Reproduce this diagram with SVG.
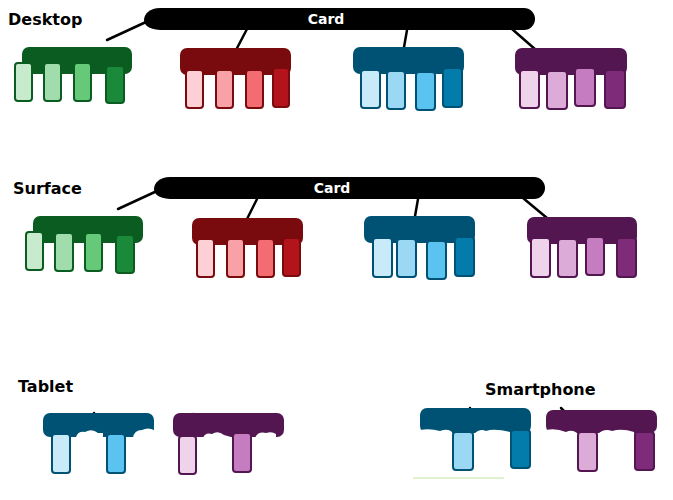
<svg xmlns="http://www.w3.org/2000/svg" width="673" height="500" viewBox="0 0 673 500">
<style>
.lbl{font-family:"DejaVu Sans",Verdana,sans-serif;font-weight:bold;font-size:16px;fill:#000}
.card{fill:#000}
.cardt{font-family:"DejaVu Sans",Verdana,sans-serif;font-weight:bold;font-size:14px;fill:#fff;text-anchor:middle}
.conn line{stroke:#000;stroke-width:2.5;stroke-linecap:round}
.b{stroke-width:2}
.gT{fill:#0b5c20}.g{stroke:#0b5c20}.g1{fill:#c7ebcc}.g2{fill:#a0dcac}.g3{fill:#66c97a}.g4{fill:#1a8a3a}
.rT{fill:#790a0d}.r{stroke:#790a0d}.r1{fill:#fcd0d4}.r2{fill:#f8a2a8}.r3{fill:#f26c72}.r4{fill:#b3131b}
.uT{fill:#005275}.u{stroke:#005275}.u1{fill:#c8eaf9}.u2{fill:#9bd8f4}.u3{fill:#5bc3ef}.u4{fill:#037bab}
.pT{fill:#531651}.p{stroke:#531651}.p1{fill:#eed3eb}.p2{fill:#dcabd8}.p3{fill:#c67cc0}.p4{fill:#7e2b7a}
.er{fill:#fff}
</style>

<text class="lbl" x="8" y="25">Desktop</text>
<text class="lbl" x="13" y="194">Surface</text>
<text class="lbl" x="18" y="392">Tablet</text>
<text class="lbl" x="485" y="395">Smartphone</text>

<g id="connectors" class="conn">
<line x1="146" y1="22" x2="107" y2="40"/>
<line x1="247" y1="29" x2="235" y2="52"/>
<line x1="407" y1="30" x2="403" y2="53"/>
<line x1="512" y1="29" x2="536" y2="50"/>
<line x1="157" y1="191" x2="118" y2="209"/>
<line x1="257" y1="199" x2="246" y2="221"/>
<line x1="418" y1="199" x2="414" y2="222"/>
<line x1="523" y1="198" x2="547" y2="218"/>
<line x1="94" y1="413" x2="93" y2="417"/>
<line x1="193" y1="414" x2="192" y2="416"/>
<line x1="470" y1="408" x2="469" y2="414"/>
<line x1="561" y1="408" x2="564" y2="411"/>
</g>

<g id="card-desktop">
<path class="card" d="M160 8 L524 8 A11 11 0 0 1 524 30 L160 30 C148 29 144 25 144 20 C144 14 150 8 160 8 Z"/>
<text class="cardt" x="326" y="24">Card</text>
</g>
<g id="card-surface">
<path class="card" d="M170 177 L534 177 A11 11 0 0 1 534 199 L170 199 C158 198 154 194 154 189 C154 183 160 177 170 177 Z"/>
<text class="cardt" x="332" y="193">Card</text>
</g>

<!-- Desktop -->
<g id="desktop-green">
<rect class="gT" x="22" y="47" width="110" height="27" rx="7"/>
<rect class="b g g1" x="15" y="63" width="17" height="38" rx="3"/>
<rect class="b g g2" x="44" y="63" width="17" height="38" rx="3"/>
<rect class="b g g3" x="74" y="63" width="17" height="38" rx="3"/>
<rect class="b g g4" x="106" y="66" width="18" height="37" rx="3"/>
</g>
<g id="desktop-red">
<rect class="rT" x="180" y="48" width="111" height="27" rx="7"/>
<rect class="b r r1" x="186" y="70" width="17" height="38" rx="3"/>
<rect class="b r r2" x="216" y="70" width="17" height="38" rx="3"/>
<rect class="b r r3" x="246" y="70" width="17" height="38" rx="3"/>
<rect class="b r r4" x="273" y="68" width="16" height="39" rx="3"/>
</g>
<g id="desktop-blue">
<rect class="uT" x="353" y="47" width="111" height="27" rx="7"/>
<rect class="b u u1" x="361" y="70" width="19" height="38" rx="3"/>
<rect class="b u u2" x="387" y="71" width="18" height="38" rx="3"/>
<rect class="b u u3" x="416" y="72" width="19" height="38" rx="3"/>
<rect class="b u u4" x="443" y="68" width="19" height="39" rx="3"/>
</g>
<g id="desktop-purple">
<rect class="pT" x="515" y="48" width="112" height="27" rx="7"/>
<rect class="b p p1" x="520" y="70" width="19" height="38" rx="3"/>
<rect class="b p p2" x="547" y="71" width="20" height="38" rx="3"/>
<rect class="b p p3" x="575" y="68" width="20" height="38" rx="3"/>
<rect class="b p p4" x="605" y="70" width="20" height="38" rx="3"/>
</g>

<!-- Surface -->
<g id="surface-green">
<rect class="gT" x="33" y="216" width="110" height="27" rx="7"/>
<rect class="b g g1" x="26" y="232" width="17" height="38" rx="3"/>
<rect class="b g g2" x="55" y="233" width="18" height="38" rx="3"/>
<rect class="b g g3" x="85" y="233" width="17" height="38" rx="3"/>
<rect class="b g g4" x="116" y="235" width="18" height="38" rx="3"/>
</g>
<g id="surface-red">
<rect class="rT" x="192" y="218" width="111" height="27" rx="7"/>
<rect class="b r r1" x="197" y="239" width="17" height="38" rx="3"/>
<rect class="b r r2" x="227" y="239" width="17" height="38" rx="3"/>
<rect class="b r r3" x="257" y="239" width="17" height="38" rx="3"/>
<rect class="b r r4" x="283" y="238" width="17" height="38" rx="3"/>
</g>
<g id="surface-blue">
<rect class="uT" x="364" y="216" width="111" height="27" rx="7"/>
<rect class="b u u1" x="373" y="238" width="19" height="39" rx="3"/>
<rect class="b u u2" x="397" y="239" width="19" height="38" rx="3"/>
<rect class="b u u3" x="427" y="241" width="19" height="38" rx="3"/>
<rect class="b u u4" x="455" y="237" width="19" height="39" rx="3"/>
</g>
<g id="surface-purple">
<rect class="pT" x="527" y="217" width="110" height="27" rx="7"/>
<rect class="b p p1" x="531" y="238" width="19" height="39" rx="3"/>
<rect class="b p p2" x="558" y="239" width="19" height="38" rx="3"/>
<rect class="b p p3" x="586" y="237" width="18" height="38" rx="3"/>
<rect class="b p p4" x="617" y="238" width="19" height="39" rx="3"/>
</g>

<!-- Tablet -->
<g id="tablet-blue">
<rect class="uT" x="43" y="413" width="111" height="24" rx="7"/>
<path class="er" d="M76 437 Q78 431 85 432 Q92 428 98 433 L103 433 L103 440 L76 440 Z"/>
<path class="er" d="M133 438 Q134 430 142 430 Q148 427 154 430 L156 440 Z"/>
<rect class="b u u1" x="52" y="434" width="18" height="39" rx="3"/>
<rect class="b u u3" x="107" y="434" width="18" height="39" rx="3"/>
</g>
<g id="tablet-purple">
<rect class="pT" x="173" y="413" width="111" height="24" rx="7"/>
<path class="er" d="M203 438 Q205 432 212 434 Q218 430 224 435 L231 437 Z"/>
<path class="er" d="M255 438 Q258 431 266 433 Q272 431 276 434 L276 440 Z"/>
<rect class="b p p1" x="179" y="436" width="17" height="38" rx="3"/>
<rect class="b p p3" x="233" y="433" width="18" height="39" rx="3"/>
</g>

<!-- Smartphone -->
<g id="smartphone-blue">
<rect class="uT" x="420" y="408" width="111" height="25" rx="7"/>
<path class="er" d="M420 434 L420 430 Q430 428 440 431 Q448 428 452 432 L452 436 Z"/>
<path class="er" d="M474 434 Q480 428 486 431 Q494 428 510 432 L510 436 Z"/>
<rect class="b u u2" x="453" y="432" width="20" height="38" rx="3"/>
<rect class="b u u4" x="511" y="430" width="19" height="38" rx="3"/>
<line x1="413" y1="478" x2="504" y2="478" stroke="#d5ecbc" stroke-width="1.5"/>
</g>
<g id="smartphone-purple">
<rect class="pT" x="546" y="410" width="111" height="23" rx="7"/>
<path class="er" d="M546 434 L546 430 Q556 428 566 432 Q572 429 577 433 L577 436 Z"/>
<path class="er" d="M598 434 Q604 428 612 431 Q622 428 634 432 L634 436 Z"/>
<rect class="b p p2" x="578" y="432" width="19" height="39" rx="3"/>
<rect class="b p p4" x="635" y="432" width="19" height="38" rx="3"/>
</g>
</svg>
